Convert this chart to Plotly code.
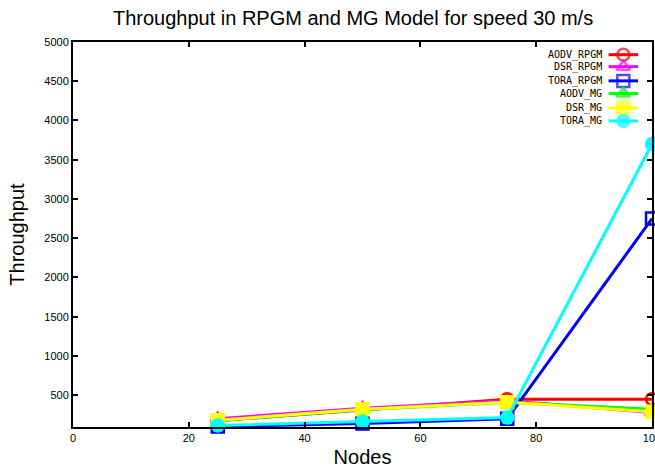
import plotly.graph_objects as go

nodes = [25, 50, 75, 100]
aodv_rpgm = [175, 315, 450, 450]
dsr_rpgm = [200, 335, 430, 280]
tora_rpgm = [100, 140, 200, 2750]
aodv_mg = [175, 315, 410, 320]
dsr_mg = [180, 320, 410, 290]
tora_mg = [115, 165, 215, 3700]

series = [
    ("AODV_RPGM", aodv_rpgm, "#ff0000", "circle-open"),
    ("DSR_RPGM", dsr_rpgm, "#ff00ff", "triangle-up-open"),
    ("TORA_RPGM", tora_rpgm, "#0000ff", "square-open"),
    ("AODV_MG", aodv_mg, "#00ff00", "triangle-up"),
    ("DSR_MG", dsr_mg, "#ffff00", "square"),
    ("TORA_MG", tora_mg, "#00ffff", "circle"),
]

fig = go.Figure()
for name, vals, col, sym in series:
    fig.add_trace(go.Scatter(
        x=nodes, y=vals, mode="lines+markers", name=name,
        line=dict(color=col, width=3),
        marker=dict(color=col, symbol=sym, size=12, line=dict(color=col, width=2.5)),
        cliponaxis=False, showlegend=False,
    ))

# custom gnuplot-style legend (text left, sample right)
leg_y = [0.967, 0.936, 0.899, 0.866, 0.829, 0.795]
for (name, vals, col, sym), ly in zip(series, leg_y):
    fig.add_trace(go.Scatter(
        x=[0.925, 0.9505, 0.976], y=[ly, ly, ly], xaxis="x2", yaxis="y2",
        mode="lines+markers", line=dict(color=col, width=3),
        marker=dict(color=col, symbol=sym, size=[0, 12, 0], line=dict(color=col, width=2.5)),
        showlegend=False, hoverinfo="skip", cliponaxis=False,
    ))
    fig.add_annotation(x=0.917, y=ly, xref="x2", yref="y2", text=name, showarrow=False,
                       xanchor="right", yanchor="middle",
                       font=dict(family="DejaVu Sans Mono", size=10, color="#000"))

axis_common = dict(
    showgrid=False, zeroline=False, showline=True, linecolor="#000", linewidth=2,
    mirror="ticks", ticks="inside", ticklen=5, tickwidth=1.5, tickcolor="#000",
    tickfont=dict(family="Liberation Sans", size=11, color="#000"),
    ticklabeloverflow="allow", automargin=False,
)

fig.update_layout(
    width=655, height=468,
    margin=dict(l=73, r=3, t=42, b=41),
    paper_bgcolor="white", plot_bgcolor="white",
    title=dict(text="Throughput in RPGM and MG Model for speed 30 m/s",
               x=0.539, xanchor="center", y=0.962, yanchor="middle",
               font=dict(family="Liberation Sans", size=20, color="#000")),
    xaxis=dict(range=[0, 100], dtick=20, **axis_common,
               title=dict(text="Nodes", standoff=7,
                          font=dict(family="Liberation Sans", size=20, color="#000"))),
    yaxis=dict(range=[95, 5000], tickvals=[500, 1000, 1500, 2000, 2500, 3000, 3500, 4000, 4500, 5000],
               **axis_common,
               title=dict(text="Throughput", standoff=14,
                          font=dict(family="Liberation Sans", size=20, color="#000"))),
    xaxis2=dict(range=[0, 1], overlaying="x", visible=False, fixedrange=True),
    yaxis2=dict(range=[0, 1], overlaying="y", visible=False, fixedrange=True),
)

fig.write_html("out.html")
